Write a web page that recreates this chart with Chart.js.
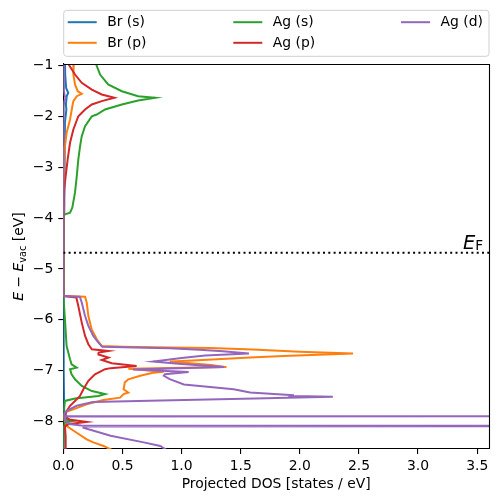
<!DOCTYPE html>
<html><head><meta charset="utf-8">
<script src="https://cdn.jsdelivr.net/npm/chart.js@4.4.1/dist/chart.umd.min.js"></script>
<style>html,body{margin:0;padding:0;background:#fff;overflow:hidden}</style>
</head><body>
<canvas id="c" width="498" height="502"></canvas>
<script>
// ---- data (x = projected DOS [states/eV], y = energy E - E_vac [eV]) ----
const seriesNames = ['Br (s)', 'Br (p)', 'Ag (s)', 'Ag (p)', 'Ag (d)'];
const seriesColors = ['#1f77b4', '#ff7f0e', '#2ca02c', '#d62728', '#9467bd'];

const brS_E   = [-0.9, -1.18, -1.44, -1.54, -1.60, -1.77, -1.86, -2.12, -2.45, -3.0, -3.9, -4.0, -5.5, -5.6, -7.0, -7.8, -7.94, -7.985, -8.01, -8.1, -8.6];
const brS_DOS = [0.014, 0.016, 0.024, 0.042, 0.029, 0.022, 0.026, 0.014, 0.01, 0.008, 0.006, 0.0, 0.0, 0.004, 0.005, 0.008, 0.03, 0.07, 0.03, 0.005, 0.002];

const brP_E   = [-0.9, -1.177, -1.373, -1.505, -1.556, -1.603, -1.70, -1.82, -2.06, -2.316, -2.585, -2.94, -3.4, -4.0, -5.53, -5.544, -5.66, -5.925, -6.187, -6.383, -6.515, -6.53, -6.545, -6.555, -6.585, -6.63, -6.66, -6.71, -6.743, -6.776, -6.81, -6.82, -6.85, -6.89, -6.93, -6.96, -7.02, -7.04, -7.10, -7.17, -7.23, -7.365, -7.43, -7.46, -7.53, -7.575, -7.66, -7.76, -7.82, -7.92, -8.0, -8.09, -8.22, -8.35, -8.41, -8.48, -8.6];
const brP_DOS = [0.09, 0.085, 0.099, 0.122, 0.156, 0.114, 0.085, 0.075, 0.057, 0.029, 0.014, 0.006, 0.002, 0.0, 0.0, 0.184, 0.198, 0.212, 0.24, 0.283, 0.325, 0.5, 0.9, 1.24, 1.6, 2.0, 2.45, 1.86, 1.58, 1.30, 1.01, 0.9, 1.05, 1.25, 1.38, 0.55, 0.85, 0.76, 0.65, 0.55, 0.52, 0.51, 0.55, 0.51, 0.48, 0.34, 0.197, 0.085, 0.014, 0.005, 0.01, 0.029, 0.113, 0.198, 0.254, 0.34, 0.45];

const agS_E   = [-0.9, -0.96, -1.177, -1.373, -1.505, -1.603, -1.635, -1.688, -1.766, -1.864, -1.963, -2.0, -2.193, -2.389, -2.585, -2.847, -3.175, -3.501, -3.796, -3.894, -3.927, -3.96, -5.54, -5.6, -5.99, -6.515, -6.776, -6.874, -6.94, -6.97, -7.07, -7.17, -7.30, -7.40, -7.43, -7.46, -7.497, -7.548, -7.595, -7.75, -7.96, -7.99, -8.02, -8.15, -8.6];
const agS_DOS = [0.25, 0.275, 0.311, 0.379, 0.495, 0.633, 0.777, 0.633, 0.495, 0.353, 0.283, 0.241, 0.184, 0.156, 0.142, 0.127, 0.114, 0.099, 0.076, 0.057, 0.014, 0.0, 0.0, 0.005, 0.014, 0.028, 0.057, 0.07, 0.113, 0.057, 0.07, 0.099, 0.156, 0.241, 0.297, 0.353, 0.297, 0.099, 0.014, 0.005, 0.01, 0.08, 0.01, 0.003, 0.0];

const agP_E   = [-0.9, -0.96, -1.177, -1.34, -1.472, -1.57, -1.635, -1.70, -1.766, -1.864, -1.996, -2.257, -2.519, -2.847, -3.175, -3.436, -3.83, -4.0, -5.53, -5.56, -5.73, -6.055, -6.318, -6.48, -6.58, -6.613, -6.645, -6.68, -6.743, -6.79, -6.855, -6.908, -6.95, -6.97, -7.07, -7.20, -7.365, -7.497, -7.595, -7.69, -7.79, -7.89, -7.96, -8.008, -8.05, -8.087, -8.3, -8.6];
const agP_DOS = [0.035, 0.04, 0.099, 0.156, 0.241, 0.325, 0.432, 0.325, 0.241, 0.184, 0.127, 0.085, 0.057, 0.037, 0.02, 0.008, 0.002, 0.0, 0.0, 0.11, 0.127, 0.156, 0.184, 0.212, 0.241, 0.382, 0.30, 0.297, 0.382, 0.325, 0.41, 0.62, 0.40, 0.353, 0.268, 0.212, 0.17, 0.141, 0.099, 0.057, 0.029, 0.014, 0.05, 0.198, 0.05, 0.014, 0.02, 0.02];

const agD_E   = [-0.9, -1.5, -1.6, -1.635, -1.7, -1.8, -5.53, -5.545, -5.66, -5.925, -6.12, -6.318, -6.45, -6.53, -6.545, -6.56, -6.59, -6.62, -6.66, -6.70, -6.75, -6.82, -6.87, -6.93, -6.975, -7.027, -7.07, -7.10, -7.165, -7.27, -7.365, -7.43, -7.483, -7.49, -7.50, -7.515, -7.547, -7.59, -7.615, -7.69, -7.79, -7.857, -7.893, -7.896, -7.899, -7.93, -7.99, -8.05, -8.078, -8.088, -8.098, -8.12, -8.28, -8.41, -8.48, -8.6];
const agD_DOS = [0.002, 0.005, 0.012, 0.02, 0.008, 0.003, 0.0, 0.14, 0.156, 0.184, 0.212, 0.254, 0.297, 0.33, 0.6, 0.9, 1.15, 1.35, 1.57, 1.2, 1.0, 0.76, 1.0, 1.36, 0.59, 1.06, 0.86, 0.85, 0.9, 1.02, 1.44, 1.58, 1.95, 1.90, 1.95, 2.28, 1.62, 0.73, 0.25, 0.113, 0.029, 0.005, 0.01, 8, 0.01, 0.01, 0.02, 0.05, 0.15, 8, 0.17, 0.17, 0.40, 0.68, 0.82, 0.9];

const fermiLevel = -4.68;
const xTicks = [0, 0.5, 1, 1.5, 2, 2.5, 3, 3.5];
const yTicks = [-8, -7, -6, -5, -4, -3, -2, -1];
const xRange = [0, 3.6];
const yRange = [-8.54, -0.97];

const seriesE = [brS_E, brP_E, agS_E, agP_E, agD_E];
const seriesDOS = [brS_DOS, brP_DOS, agS_DOS, agP_DOS, agD_DOS];

// ---- chart ----
const FONT = "'DejaVu Sans', 'Liberation Sans', sans-serif";
const FS = 13.9;

const datasets = seriesNames.map((name, i) => ({
  label: name,
  data: seriesE[i].map((e, k) => ({ x: seriesDOS[i][k], y: e })),
  showLine: true,
  borderColor: seriesColors[i],
  backgroundColor: seriesColors[i],
  borderWidth: 2,
  pointRadius: 0,
  tension: 0,
  fill: false,
  clip: 0,
  order: 10 - i
}));
datasets.push({
  label: 'EF',
  data: [{ x: xRange[0], y: fermiLevel }, { x: xRange[1], y: fermiLevel }],
  showLine: true,
  borderColor: '#000',
  borderWidth: 2,
  borderDash: [2, 3.3],
  borderCapStyle: 'butt',
  pointRadius: 0,
  clip: 0,
  order: 0
});

const fmt = v => (Math.abs(v) < 1e-9 ? 0 : v);

const decor = {
  id: 'decor',
  afterDraw(chart) {
    const ctx = chart.ctx;
    const a = chart.chartArea;
    ctx.save();
    // top and right frame lines
    ctx.strokeStyle = '#000';
    ctx.lineWidth = 1.1;
    ctx.beginPath();
    ctx.moveTo(a.left, a.top + 0.5); ctx.lineTo(a.right + 0.5, a.top + 0.5);
    ctx.lineTo(a.right + 0.5, a.bottom);
    ctx.stroke();

    // legend box
    const bx = 63.7, by = 10.3, bw = 489 - 63.7, bh = 46;
    ctx.fillStyle = 'rgba(255,255,255,0.8)';
    ctx.strokeStyle = '#d0d0d0';
    ctx.lineWidth = 1;
    ctx.beginPath();
    const r = 3;
    ctx.moveTo(bx + r, by); ctx.lineTo(bx + bw - r, by); ctx.arcTo(bx + bw, by, bx + bw, by + r, r);
    ctx.lineTo(bx + bw, by + bh - r); ctx.arcTo(bx + bw, by + bh, bx + bw - r, by + bh, r);
    ctx.lineTo(bx + r, by + bh); ctx.arcTo(bx, by + bh, bx, by + bh - r, r);
    ctx.lineTo(bx, by + r); ctx.arcTo(bx, by, bx + r, by, r);
    ctx.closePath(); ctx.fill(); ctx.stroke();
    const colX = [67.7, 233.3, 401];
    const rowY = [22.2, 42.8];
    ctx.font = FS + 'px ' + FONT;
    ctx.textBaseline = 'middle';
    ctx.textAlign = 'left';
    seriesNames.forEach((n, i) => {
      const c = Math.floor(i / 2), rr = i % 2;
      const x = colX[c], y = rowY[rr];
      ctx.strokeStyle = seriesColors[i];
      ctx.lineWidth = 2;
      ctx.beginPath(); ctx.moveTo(x, y); ctx.lineTo(x + 29, y); ctx.stroke();
      ctx.fillStyle = '#000';
      ctx.fillText(n, x + 39.5, y + 0.5);
    });

    // x-axis title
    ctx.fillStyle = '#000';
    ctx.textAlign = 'center';
    ctx.textBaseline = 'alphabetic';
    ctx.font = FS + 'px ' + FONT;
    ctx.fillText('Projected DOS [states / eV]', (a.left + a.right) / 2, 488);

    // y-axis title: E − E_vac [eV]
    const parts = [
      { t: 'E', f: 'italic ' + FS + 'px ' + FONT, dy: 0 },
      { t: ' \u2212 ', f: FS + 'px ' + FONT, dy: 0 },
      { t: 'E', f: 'italic ' + FS + 'px ' + FONT, dy: 0 },
      { t: 'vac', f: (FS * 0.7) + 'px ' + FONT, dy: 3 },
      { t: ' [eV]', f: FS + 'px ' + FONT, dy: 0 }
    ];
    let total = 0;
    parts.forEach(p => { ctx.font = p.f; p.w = ctx.measureText(p.t).width; total += p.w; });
    ctx.save();
    ctx.translate(22.5, (a.top + a.bottom) / 2);
    ctx.rotate(-Math.PI / 2);
    ctx.textAlign = 'left';
    ctx.textBaseline = 'alphabetic';
    let px = -total / 2;
    parts.forEach(p => { ctx.font = p.f; ctx.fillText(p.t, px, p.dy); px += p.w; });
    ctx.restore();

    // E_F label
    const yS = chart.scales.y;
    const ey = yS.getPixelForValue(fermiLevel);
    const fE = 'italic 19.4px ' + FONT, fF = '13.6px ' + FONT;
    ctx.font = fF; const wF = ctx.measureText('F').width;
    ctx.font = fE; const wE = ctx.measureText('E').width;
    const rightX = 483;
    ctx.textAlign = 'left';
    ctx.textBaseline = 'alphabetic';
    ctx.font = fE; ctx.fillText('E', rightX - wF - wE, ey - 4);
    ctx.font = fF; ctx.fillText('F', rightX - wF, ey - 3);
    ctx.restore();
  }
};

new Chart(document.getElementById('c'), {
  type: 'scatter',
  data: { datasets },
  options: {
    responsive: false,
    devicePixelRatio: 1,
    animation: false,
    events: [],
    layout: { padding: { top: 64, right: 9, left: 0, bottom: 0 } },
    plugins: { legend: { display: false }, tooltip: { enabled: false } },
    scales: {
      x: {
        type: 'linear',
        min: xRange[0], max: xRange[1],
        afterBuildTicks: ax => { ax.ticks = xTicks.map(v => ({ value: v })); },
        afterFit: s => { s.height = 53; },
        ticks: {
          autoSkip: false, maxRotation: 0, color: '#000', padding: 4,
          font: { family: FONT, size: FS },
          callback: v => fmt(v).toFixed(1)
        },
        grid: { display: true, drawOnChartArea: false, drawTicks: true, tickLength: 5, color: '#000', lineWidth: 1.1 },
        border: { display: true, color: '#000', width: 1.1 }
      },
      y: {
        type: 'linear',
        min: yRange[0], max: yRange[1],
        afterBuildTicks: ax => { ax.ticks = yTicks.map(v => ({ value: v })); },
        afterFit: s => { s.width = 63.3; },
        ticks: {
          autoSkip: false, color: '#000', padding: 5,
          font: { family: FONT, size: FS },
          callback: v => String(fmt(v)).replace('-', '\u2212')
        },
        grid: { display: true, drawOnChartArea: false, drawTicks: true, tickLength: 5, color: '#000', lineWidth: 1.1 },
        border: { display: true, color: '#000', width: 1.1 }
      }
    }
  },
  plugins: [decor]
});
</script>
</body></html>
